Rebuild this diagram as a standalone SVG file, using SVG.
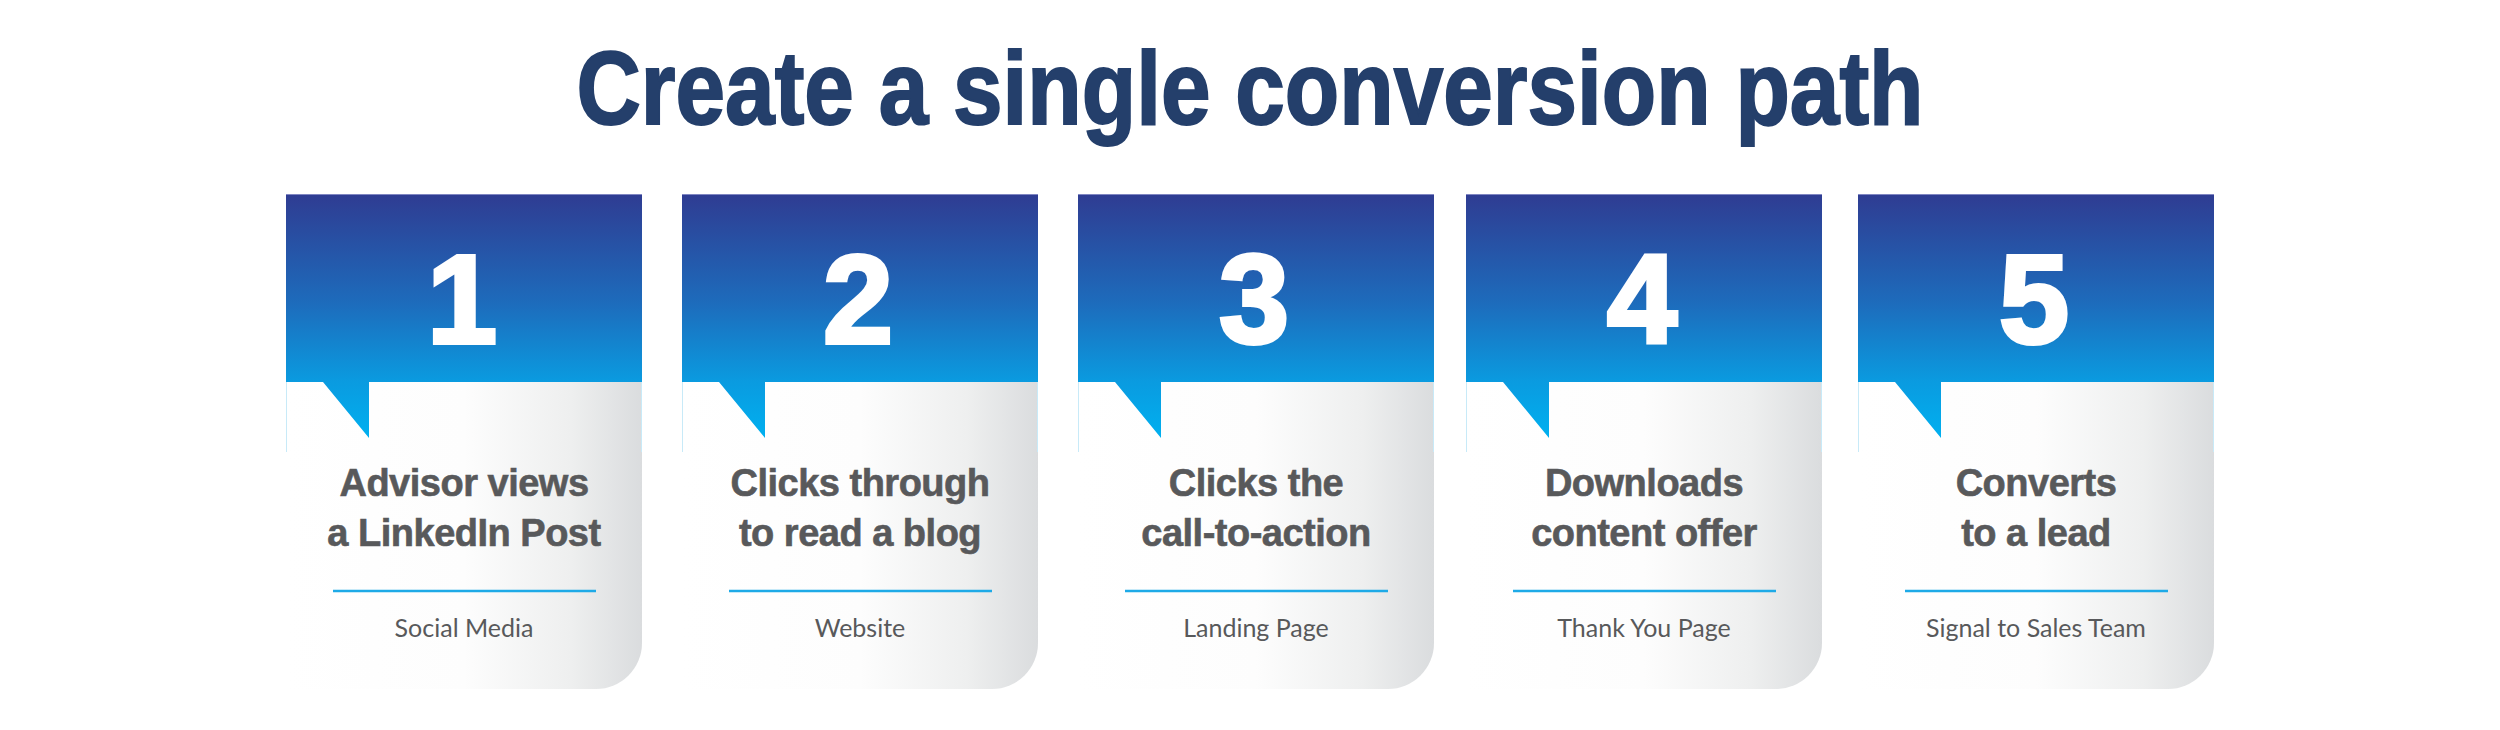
<svg xmlns="http://www.w3.org/2000/svg" width="2500" height="730" viewBox="0 0 2500 730">
<defs>
<linearGradient id="blue" x1="0" y1="0" x2="0" y2="1">
<stop offset="0" stop-color="#2f3c92"/>
<stop offset="0.45" stop-color="#1d6cbc"/>
<stop offset="0.77" stop-color="#0a9be0"/>
<stop offset="1" stop-color="#00b0f0"/>
</linearGradient>
<linearGradient id="gray" x1="0" y1="0" x2="1" y2="0">
<stop offset="0" stop-color="#ffffff"/>
<stop offset="0.5" stop-color="#fdfdfd"/>
<stop offset="0.8" stop-color="#eeefef"/>
<stop offset="1" stop-color="#dadcde"/>
</linearGradient>
<g id="card">
<path d="M0,188 H356 V449 A46,46 0 0 1 310,495 H0 Z" fill="url(#gray)"/>
<path d="M0,0 H356 V188 H83 V244 L37,188 H0 Z" fill="url(#blue)"/>
<line x1="0.5" y1="188" x2="0.5" y2="258" stroke="#c8eaf8" stroke-width="1"/>
<line x1="355.5" y1="188" x2="355.5" y2="258" stroke="#c8eaf8" stroke-width="1"/>
<line x1="0" y1="0.5" x2="356" y2="0.5" stroke="#7f86c2" stroke-width="1"/>
<line x1="47" y1="397" x2="310" y2="397" stroke="#1eaae7" stroke-width="2.5"/>
</g>
</defs>
<style>
.title{font-family:"Liberation Sans",Arial,sans-serif;font-weight:bold;font-size:104px;fill:#243f6b;stroke:#243f6b;stroke-width:2px;text-anchor:middle}
.num{font-family:"Liberation Sans",Arial,sans-serif;font-weight:bold;font-size:126px;fill:#ffffff;stroke:#ffffff;stroke-width:4px;text-anchor:middle}
.head{font-family:"Liberation Sans",Arial,sans-serif;font-weight:bold;font-size:38px;fill:#58595b;stroke:#58595b;stroke-width:0.6px;text-anchor:middle;letter-spacing:-0.5px}
.sub{font-family:Lato,"Liberation Sans",sans-serif;font-size:25px;fill:#58595b;text-anchor:middle}
</style>
<rect width="2500" height="730" fill="#ffffff"/>
<text class="title" x="1250" y="124" textLength="1347" lengthAdjust="spacingAndGlyphs">Create a single conversion path</text>
<g id="connectors"/>
<g id="step1" transform="translate(286,194)">
<use href="#card"/>
<text class="num" x="176" y="149">1</text>
<text class="head" x="178" y="302">Advisor views</text>
<text class="head" x="178" y="352">a LinkedIn Post</text>
<text class="sub" x="178" y="443">Social Media</text>
</g>
<g id="step2" transform="translate(682,194)">
<use href="#card"/>
<text class="num" x="176" y="149">2</text>
<text class="head" x="178" y="302">Clicks through</text>
<text class="head" x="178" y="352">to read a blog</text>
<text class="sub" x="178" y="443">Website</text>
</g>
<g id="step3" transform="translate(1078,194)">
<use href="#card"/>
<text class="num" x="176" y="149">3</text>
<text class="head" x="178" y="302">Clicks the</text>
<text class="head" x="178" y="352">call-to-action</text>
<text class="sub" x="178" y="443">Landing Page</text>
</g>
<g id="step4" transform="translate(1466,194)">
<use href="#card"/>
<text class="num" x="176" y="149">4</text>
<text class="head" x="178" y="302">Downloads</text>
<text class="head" x="178" y="352">content offer</text>
<text class="sub" x="178" y="443">Thank You Page</text>
</g>
<g id="step5" transform="translate(1858,194)">
<use href="#card"/>
<text class="num" x="176" y="149">5</text>
<text class="head" x="178" y="302">Converts</text>
<text class="head" x="178" y="352">to a lead</text>
<text class="sub" x="178" y="443">Signal to Sales Team</text>
</g>
</svg>
